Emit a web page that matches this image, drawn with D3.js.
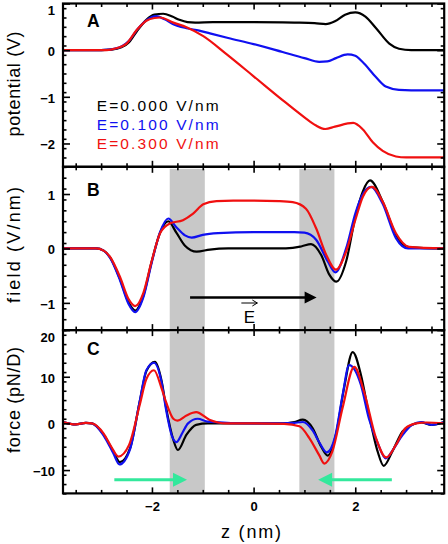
<!DOCTYPE html>
<html><head><meta charset="utf-8">
<script src="https://cdn.jsdelivr.net/npm/d3@7"></script>
<style>body{margin:0;background:#fff}svg{display:block}</style>
</head><body>
<svg id="c" width="448" height="544"></svg>
<script>
// ---------- data ----------
const seriesNames = ["E=0.000 V/nm", "E=0.100 V/nm", "E=0.300 V/nm"];
const seriesColors = ["#000000", "#1010f0", "#f01010"];

// Panel A: potential (V)
const potZ0 = [-3.75,-3.0,-2.8,-2.6,-2.45,-2.3,-2.11,-1.95,-1.78,-1.6,-1.46,-1.3,-1.15,-0.8,0,0.8,1.2,1.42,1.6,1.8,2.0,2.2,2.41,2.67,2.86,3.1,3.75];
const potV0 = [0,0,0.01,0.06,0.17,0.40,0.65,0.76,0.78,0.72,0.65,0.60,0.59,0.60,0.60,0.59,0.58,0.56,0.62,0.76,0.81,0.72,0.47,0.14,0.03,0,0];
const potZ1 = [-3.75,-3.0,-2.85,-2.6,-2.45,-2.3,-2.11,-1.92,-1.75,-1.59,-1.32,-1.07,-0.86,-0.5,0,0.57,1.0,1.29,1.45,1.62,1.85,2.0,2.14,2.41,2.6,2.86,3.1,3.75];
const potV1 = [0,0,0.01,0.08,0.2,0.43,0.64,0.73,0.66,0.56,0.47,0.42,0.36,0.26,0.13,-0.04,-0.17,-0.25,-0.24,-0.17,-0.09,-0.12,-0.25,-0.58,-0.78,-0.85,-0.86,-0.86];
const potZ2 = [-3.75,-3.0,-2.89,-2.7,-2.5,-2.3,-2.11,-1.95,-1.84,-1.58,-1.32,-0.99,-0.54,0,0.57,1.0,1.22,1.41,1.6,1.96,2.15,2.35,2.54,2.8,3.0,3.75];
const potV2 = [0,0,0,0.04,0.14,0.43,0.63,0.69,0.70,0.59,0.49,0.30,-0.08,-0.56,-1.07,-1.44,-1.61,-1.69,-1.64,-1.56,-1.70,-1.98,-2.16,-2.28,-2.30,-2.30];

// Panel B: field (V/nm)
const fldZ0 = [-3.75,-3.1,-2.95,-2.82,-2.63,-2.46,-2.33,-2.17,-2.01,-1.84,-1.68,-1.52,-1.35,-1.12,-0.86,-0.5,0,0.5,0.77,0.95,1.13,1.33,1.49,1.63,1.82,2.01,2.15,2.29,2.54,2.80,3.06,3.75];
const fldV0 = [0,0,-0.04,-0.17,-0.56,-0.99,-1.14,-0.87,-0.26,0.29,0.50,0.29,0.05,-0.06,-0.02,0,0,0,0.01,0.04,0.08,-0.12,-0.48,-0.61,-0.24,0.61,1.05,1.25,0.86,0.25,0.02,0];
const fldZ1 = [-3.75,-3.1,-2.95,-2.82,-2.63,-2.46,-2.33,-2.17,-2.01,-1.84,-1.68,-1.52,-1.35,-1.22,-1.0,-0.7,0,0.8,1.0,1.23,1.46,1.61,1.82,2.01,2.15,2.31,2.54,2.80,3.04,3.75];
const fldV1 = [0,0,-0.04,-0.18,-0.58,-1.02,-1.17,-0.9,-0.28,0.30,0.55,0.39,0.24,0.20,0.25,0.28,0.30,0.30,0.29,0.16,-0.24,-0.44,0,0.67,1.0,1.13,0.82,0.19,0.0,0];
const fldZ2 = [-3.75,-3.1,-2.95,-2.82,-2.63,-2.46,-2.33,-2.17,-2.01,-1.84,-1.65,-1.39,-1.19,-0.99,-0.73,-0.4,0,0.5,0.77,1.03,1.23,1.43,1.62,1.82,2.01,2.15,2.33,2.54,2.80,3.06,3.75];
const fldV2 = [0,0,-0.04,-0.16,-0.52,-0.93,-1.06,-0.82,-0.25,0.28,0.46,0.52,0.64,0.81,0.87,0.88,0.88,0.87,0.85,0.73,0.37,-0.12,-0.39,-0.06,0.55,0.95,1.13,0.86,0.28,0.03,0];

// Panel C: force (pN/D)
const frcZ0 = [-3.75,-3.5,-3.3,-3.18,-2.95,-2.76,-2.63,-2.43,-2.24,-2.11,-1.94,-1.81,-1.72,-1.58,-1.49,-1.32,-1.13,-0.9,0,0.57,0.8,0.97,1.16,1.33,1.46,1.62,1.78,1.95,2.11,2.27,2.44,2.56,2.73,2.93,3.12,3.3,3.5,3.75];
const frcV0 = [0.3,-0.2,0.1,0,-2.4,-6.0,-8.3,-5.3,4.7,11.2,13.2,9.1,3.3,-3.5,-5.7,-2.4,-0.3,0,0,0,0.3,0.8,-1.0,-5.0,-6.9,-2.4,7.6,15.3,10.5,1.9,-6.0,-9.1,-6.0,-1.7,-0.3,0.2,-0.3,0.3];
const frcZ1 = [-3.75,-3.5,-3.3,-3.18,-2.95,-2.76,-2.64,-2.43,-2.24,-2.11,-1.96,-1.81,-1.72,-1.6,-1.52,-1.4,-1.29,-1.1,-0.9,0,0.57,0.8,0.97,1.16,1.3,1.44,1.6,1.75,1.88,2.11,2.27,2.44,2.6,2.75,2.93,3.12,3.3,3.5,3.75];
const frcV1 = [0.3,-0.2,0.1,0,-2.6,-6.4,-8.8,-5.5,4.8,11.4,13.0,8.8,2.8,-2.9,-4.0,-2.0,0,1.0,0.4,0,0,0.1,0.3,-1.5,-4.2,-6.2,-3.0,6.0,12.5,8.3,1.0,-4.2,-7.5,-5.5,-2.5,-0.3,0.3,-0.3,0.3];
const frcZ2 = [-3.75,-3.5,-3.3,-3.18,-2.95,-2.8,-2.66,-2.45,-2.24,-2.11,-1.96,-1.81,-1.72,-1.58,-1.5,-1.32,-1.13,-0.87,-0.54,0,0.6,0.9,1.1,1.29,1.39,1.55,1.75,1.98,2.17,2.41,2.61,2.80,2.99,3.2,3.4,3.75];
const frcV2 = [0.3,-0.2,0.1,0,-2.2,-5.0,-7.1,-4.6,4.0,9.5,11.4,7.5,4.5,1.0,0.6,1.7,2.4,0.8,0,0,-0.1,-0.6,-3.2,-6.8,-8.6,-6.0,3.3,12.1,6.9,-3.2,-7.3,-4.6,-1.0,0,0.2,0];

// bilayer bands (nm)
const bandStart = [-1.65, 0.90];
const bandEnd = [-0.96, 1.59];

// ticks
const xMajor = [-2, 0, 2];
const yMajorA = [-2, -1, 0, 1];
const yMajorB = [-1, 0, 1];
const yMajorC = [-10, 0, 10, 20];

// annotation arrows (data coords)
const fieldArrow = {z0: -1.25, z1: 1.24, v: -0.9};
const forceArrows = [{z0: -2.74, z1: -1.31, v: -12.1}, {z0: 2.72, z1: 1.27, v: -12.1}];

// ---------- layout ----------
const svg = d3.select("#c");
const L = 63, R = 444.2;
const tops = [3.5, 166.8, 330.1], H = 163.3;
const x = d3.scaleLinear().domain([-3.75, 3.75]).range([L, R]);
const font = "'Liberation Sans', Arial, Helvetica, sans-serif";

const panels = [
  {dom: [-2.5, 1], zs: [potZ0, potZ1, potZ2], vs: [potV0, potV1, potV2], maj: yMajorA, minStep: 0.2, title: "potential (V)", tlen: 105, tcy: 84, lab: "A", laby: 27.3, bands: false},
  {dom: [-1.5, 1.5], zs: [fldZ0, fldZ1, fldZ2], vs: [fldV0, fldV1, fldV2], maj: yMajorB, minStep: 0.2, title: "field (V/nm)", tlen: 116, tcy: 245, lab: "B", laby: 195.5, bands: true},
  {dom: [-15, 20], zs: [frcZ0, frcZ1, frcZ2], vs: [frcV0, frcV1, frcV2], maj: yMajorC, minStep: 2, title: "force (pN/D)", tlen: 106, tcy: 400, lab: "C", laby: 355.3, bands: true}
];

const fmt = d3.format("d");
const xMinor = d3.range(-3.5, 3.51, 0.5).filter(v => !xMajor.includes(v));

panels.forEach((p, i) => {
  const top = tops[i], bot = top + H;
  const y = d3.scaleLinear().domain(p.dom).range([bot, top]);
  p.y = y;
  const g = svg.append("g");
  const cid = "clip" + i;
  g.append("clipPath").attr("id", cid).append("rect").attr("x", L).attr("y", top).attr("width", R - L).attr("height", H);
  const inner = g.append("g").attr("clip-path", `url(#${cid})`);
  if (p.bands) {
    bandStart.forEach((b, k) => {
      inner.append("rect").attr("x", x(b)).attr("width", x(bandEnd[k]) - x(b))
        .attr("y", top + 2).attr("height", H - 3).attr("fill", "#c8c8c8");
    });
  }
  const line = d3.line().x(d => x(d[0])).y(d => y(d[1])).curve(d3.curveMonotoneX);
  p.zs.forEach((zs, k) => {
    const pts = zs.map((z, j) => [z, p.vs[k][j]]);
    inner.append("path").attr("d", line(pts)).attr("fill", "none")
      .attr("stroke", seriesColors[k]).attr("stroke-width", 2.2).attr("stroke-linejoin", "round");
  });

  // ticks
  const yMinor = d3.range(p.dom[0], p.dom[1] + 1e-6, p.minStep).map(v => +v.toFixed(4)).filter(v => !p.maj.includes(v));
  const mk = (axisFn, scale, vals, size, tr, labels) => {
    const a = axisFn(scale).tickValues(vals).tickSizeInner(-size).tickSizeOuter(0).tickPadding(labels ? 8 : 0)
      .tickFormat(labels ? fmt : () => "");
    const ag = g.append("g").attr("transform", tr).call(a);
    ag.select(".domain").remove();
    ag.selectAll("line").attr("stroke", "#000").attr("stroke-width", 1.6);
    ag.selectAll("text").attr("font-family", font).attr("font-size", 13).attr("font-weight", "bold").attr("fill", "#000");
    return ag;
  };
  mk(d3.axisBottom, x, xMajor, 6, `translate(0,${bot})`, i === 2);
  mk(d3.axisBottom, x, xMinor, 3.5, `translate(0,${bot})`, false);
  mk(d3.axisTop, x, xMajor, 6, `translate(0,${top})`, false);
  mk(d3.axisTop, x, xMinor, 3.5, `translate(0,${top})`, false);
  const la = mk(d3.axisLeft, y, p.maj, 7, `translate(${L},0)`, true);
  la.selectAll("text").attr("dy", "0.42em")
    .attr("y", d => Math.max(0, top + 5.5 - y(d)));
  mk(d3.axisLeft, y, yMinor, 3.5, `translate(${L},0)`, false);
  mk(d3.axisRight, y, p.maj, 7, `translate(${R},0)`, false);
  mk(d3.axisRight, y, yMinor, 3.5, `translate(${R},0)`, false);

  g.append("rect").attr("x", L).attr("y", top).attr("width", R - L).attr("height", H)
    .attr("fill", "none").attr("stroke", "#000").attr("stroke-width", 2.2);

  // panel letter
  g.append("text").attr("x", 87).attr("y", p.laby).text(p.lab)
    .attr("font-family", font).attr("font-weight", "bold").attr("font-size", 17.5);
  // y title
  g.append("text").attr("transform", `translate(14,${p.tcy}) rotate(-90)`)
    .attr("text-anchor", "middle").attr("dominant-baseline", "central")
    .attr("font-family", font).attr("font-size", 18)
    .attr("textLength", p.tlen).attr("lengthAdjust", "spacing").text(p.title);
});

// legend
seriesNames.forEach((n, k) => {
  svg.append("text").attr("x", 96.7).attr("y", [111, 130, 148.5][k]).text(n)
    .attr("fill", seriesColors[k]).attr("font-family", font).attr("font-size", 15.5)
    .attr("textLength", 122).attr("lengthAdjust", "spacing");
});

// x title
svg.append("text").attr("x", 251).attr("y", 538).attr("text-anchor", "middle")
  .attr("font-family", font).attr("font-size", 18).attr("textLength", 60).attr("lengthAdjust", "spacing").text("z (nm)");

// field arrow (panel B)
const yB = panels[1].y, yC = panels[2].y;
{
  const x0 = x(fieldArrow.z0), x1 = x(fieldArrow.z1), yy = yB(fieldArrow.v);
  svg.append("line").attr("x1", x0).attr("x2", x1 - 10).attr("y1", yy).attr("y2", yy).attr("stroke", "#000").attr("stroke-width", 2.5);
  svg.append("path").attr("d", `M${x1},${yy} L${x1 - 12},${yy - 6} L${x1 - 12},${yy + 6} Z`).attr("fill", "#000");
  const ex = (x0 + x1) / 2 - 4;
  svg.append("text").attr("x", ex).attr("y", 322.5).attr("text-anchor", "middle")
    .attr("font-family", font).attr("font-size", 17).text("E");
  svg.append("path").attr("d", `M${ex - 8},${303} L${ex + 8},${303} M${ex + 3},${300} L${ex + 8},${303} L${ex + 3},${306}`)
    .attr("fill", "none").attr("stroke", "#000").attr("stroke-width", 1);
}
// force arrows (panel C)
forceArrows.forEach(a => {
  const x0 = x(a.z0), x1 = x(a.z1), yy = yC(a.v), dir = Math.sign(x1 - x0);
  svg.append("line").attr("x1", x0).attr("x2", x1 - dir * 12).attr("y1", yy).attr("y2", yy)
    .attr("stroke", "#33e89c").attr("stroke-width", 3);
  svg.append("path").attr("d", `M${x1},${yy} L${x1 - dir * 14},${yy - 7} L${x1 - dir * 14},${yy + 7} Z`).attr("fill", "#33e89c");
});
</script>
</body></html>
